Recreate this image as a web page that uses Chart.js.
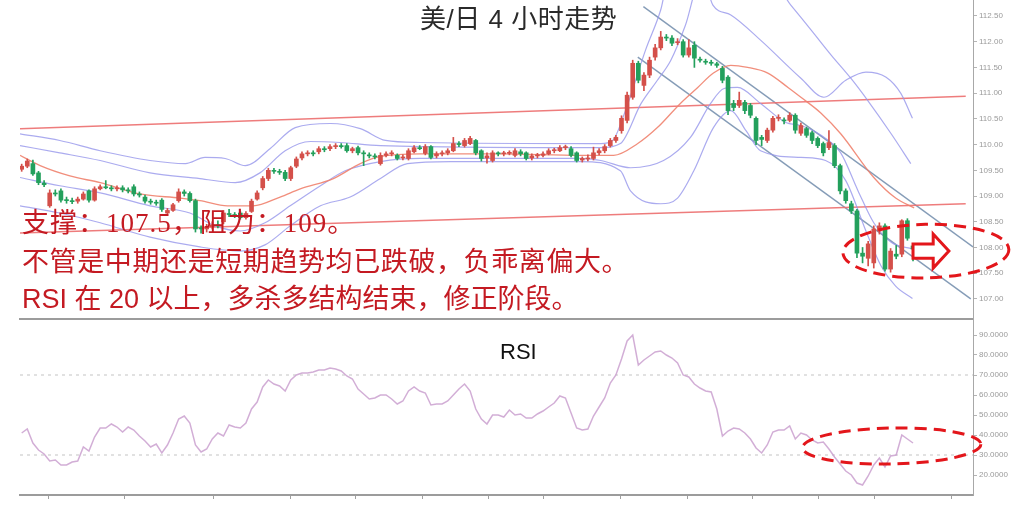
<!DOCTYPE html>
<html>
<head>
<meta charset="utf-8">
<title>美/日 4 小时走势</title>
<script src="https://cdn.jsdelivr.net/npm/chart.js@4"></script>
<style>
    body { margin: 0; background: #fff; overflow: hidden; }
    #wrap { position: relative; width: 1024px; height: 507px; background: #fff; }
    #mainBox { position: absolute; left: 0; top: 0; }
    #rsiBox { position: absolute; left: 0; top: 320px; }
    .txt { position: absolute; white-space: nowrap; }
    #title { left: 420px; top: 3px; font: 26px/32px "Liberation Sans", "Noto Sans CJK SC", sans-serif; color: #2a2a2a; letter-spacing: 0.5px; }
    .note { left: 22px; font-size: 27px; line-height: 30px; color: #c41a22; font-family: "Liberation Sans", "Noto Sans CJK SC", sans-serif; }
    #note1 { top: 208px; font-family: "Liberation Serif", "Noto Sans CJK SC", serif; letter-spacing: 1px; }
    #note2 { top: 247px; letter-spacing: 0.6px; }
    #note3 { top: 284px; }
    #rsiLabel { left: 500px; top: 338px; font: 22px/28px "Liberation Sans", sans-serif; color: #111; }
</style>
</head>
<body>
<div id="wrap">
    <div id="mainBox"><canvas id="mainChart" width="1024" height="320"></canvas></div>
    <div id="rsiBox"><canvas id="rsiChart" width="1024" height="187"></canvas></div>
    <div class="txt" id="title">美/日 4 小时走势</div>
    <div class="txt note" id="note1">支撑：107.5，阻力：109。</div>
    <div class="txt note" id="note2">不管是中期还是短期趋势均已跌破，负乖离偏大。</div>
    <div class="txt note" id="note3">RSI 在 20 以上，多杀多结构结束，修正阶段。</div>
    <div class="txt" id="rsiLabel">RSI</div>
</div>
<script>
// candles, one per 4h bar (index = bar number)
const opens = [109.52,109.58,109.63,109.45,109.25,108.81,109.06,109.10,108.93,108.91,108.90,108.94,109.10,108.92,109.14,109.18,109.16,109.14,109.16,109.12,
    109.18,109.04,108.98,108.90,108.88,108.92,108.67,108.72,108.91,109.08,109.05,108.91,108.38,108.36,108.40,108.44,108.50,108.66,108.64,108.67,
    108.58,108.70,108.94,109.16,109.34,109.50,109.48,109.46,109.34,109.58,109.74,109.82,109.84,109.86,109.92,109.92,109.96,109.98,109.98,109.88,
    109.94,109.84,109.80,109.78,109.63,109.79,109.82,109.79,109.74,109.73,109.86,109.94,109.83,109.96,109.78,109.82,109.84,109.88,110.02,109.98,
    110.02,110.08,109.88,109.74,109.69,109.84,109.82,109.83,109.79,109.86,109.84,109.74,109.78,109.79,109.82,109.88,109.88,109.94,109.92,109.84,
    109.70,109.72,109.73,109.84,109.88,109.98,110.08,110.27,110.47,110.92,111.58,111.15,111.35,111.70,111.88,112.09,112.07,111.98,112.00,111.74,
    111.93,111.66,111.62,111.60,111.57,111.48,111.31,110.80,110.76,110.82,110.76,110.51,110.14,110.08,110.28,110.51,110.48,110.47,110.57,110.22,
    110.31,110.23,110.12,110.02,109.94,109.98,109.59,109.10,108.85,108.71,107.89,107.79,107.70,108.32,108.42,107.58,107.87,107.87,108.52,108.03];
const highs = [109.62,109.72,109.70,109.48,109.30,109.12,109.12,109.14,108.98,108.96,108.98,109.08,109.12,109.18,109.22,109.30,109.20,109.20,109.20,109.16,
    109.22,109.08,109.02,108.94,108.92,108.95,108.76,108.86,109.14,109.12,109.08,108.94,108.42,108.45,108.50,108.52,108.72,108.74,108.68,108.70,
    108.70,108.94,109.10,109.38,109.54,109.54,109.52,109.50,109.58,109.76,109.86,109.88,109.88,109.96,109.96,110.00,110.02,110.02,110.02,109.95,
    109.97,109.88,109.84,109.82,109.84,109.86,109.88,109.82,109.80,109.92,109.98,109.98,110.00,109.98,109.86,109.88,109.92,110.14,110.06,110.12,
    110.16,110.10,109.90,109.84,109.88,109.86,109.87,109.88,109.92,109.90,109.86,109.82,109.83,109.86,109.92,109.93,109.98,109.99,109.96,109.86,
    109.76,109.80,109.95,109.92,110.00,110.12,110.18,110.56,111.02,111.64,111.62,111.40,111.70,111.95,112.20,112.14,112.12,112.06,112.04,112.04,
    112.00,111.70,111.66,111.64,111.60,111.52,111.34,110.86,111.02,110.86,110.80,110.54,110.18,110.32,110.55,110.58,110.52,110.62,110.60,110.42,
    110.34,110.26,110.15,110.05,110.27,110.02,109.62,109.14,108.90,108.74,108.00,108.12,108.42,108.48,108.46,107.98,108.04,108.54,108.56,108.08];
const lows = [109.48,109.55,109.40,109.22,109.18,108.78,109.00,108.88,108.86,108.85,108.86,108.92,108.88,108.90,109.12,109.14,109.10,109.10,109.08,109.06,
    109.00,108.98,108.86,108.84,108.82,108.70,108.62,108.70,108.88,109.00,108.88,108.30,108.28,108.30,108.36,108.38,108.46,108.60,108.58,108.55,
    108.55,108.68,108.92,109.12,109.30,109.44,109.42,109.30,109.30,109.55,109.70,109.78,109.78,109.82,109.86,109.88,109.92,109.93,109.85,109.84,
    109.80,109.59,109.74,109.72,109.60,109.76,109.78,109.70,109.70,109.70,109.84,109.90,109.80,109.72,109.74,109.78,109.80,109.86,109.96,109.95,
    110.00,109.80,109.68,109.64,109.66,109.78,109.78,109.80,109.76,109.78,109.70,109.70,109.74,109.76,109.80,109.84,109.86,109.90,109.76,109.66,
    109.66,109.68,109.70,109.80,109.84,109.95,110.04,110.22,110.42,110.88,111.20,111.05,111.30,111.64,111.84,112.02,111.92,111.94,111.70,111.70,
    111.50,111.60,111.56,111.54,111.50,111.20,110.58,110.66,110.72,110.60,110.52,110.00,109.98,110.04,110.24,110.46,110.40,110.44,110.22,110.18,
    110.14,110.02,109.94,109.78,109.90,109.55,109.04,108.86,108.66,107.80,107.70,107.64,107.60,108.26,107.54,107.52,107.78,107.82,108.14,107.74];
const closes = [109.58,109.68,109.43,109.26,109.22,109.06,109.04,108.92,108.91,108.89,108.94,109.04,108.92,109.14,109.18,109.16,109.14,109.16,109.12,109.10,
    109.04,109.02,108.90,108.88,108.86,108.74,108.72,108.83,109.08,109.05,108.91,108.36,108.36,108.40,108.44,108.42,108.67,108.64,108.62,108.58,
    108.66,108.90,109.06,109.34,109.50,109.48,109.46,109.34,109.55,109.72,109.82,109.84,109.82,109.92,109.90,109.96,109.98,109.96,109.88,109.92,
    109.84,109.82,109.78,109.76,109.79,109.82,109.84,109.73,109.76,109.88,109.94,109.92,109.96,109.75,109.82,109.84,109.88,110.02,110.00,110.08,
    110.12,109.84,109.73,109.78,109.84,109.82,109.84,109.85,109.88,109.82,109.73,109.78,109.80,109.82,109.88,109.90,109.94,109.96,109.79,109.69,
    109.73,109.74,109.84,109.88,109.96,110.08,110.14,110.51,110.96,111.58,111.25,111.35,111.64,111.88,112.09,112.07,111.97,112.00,111.74,111.88,
    111.68,111.64,111.60,111.58,111.54,111.25,110.66,110.72,110.86,110.66,110.57,110.08,110.10,110.28,110.51,110.53,110.46,110.57,110.28,110.37,
    110.18,110.08,109.98,109.84,110.04,109.59,109.10,108.91,108.71,107.89,107.83,108.07,108.36,108.42,107.58,107.93,107.83,108.52,108.18,107.97];

// RSI per bar
const rsi = [41,43,36,32.5,30.5,27,27.5,25,25,26.5,27,34,32,39,43.5,43.5,45.5,44,41.5,44,
    42.5,39.5,37,34,35.5,31,35,41,48,49.5,46,35,31.5,33,38,41,39.5,45,44,43.5,
    46,53,56.5,64,67.5,65.5,64.5,62,67.5,70,71,71,71.5,72.5,72.5,73.5,73,72,69.5,68,
    63,60.5,58,58.5,60,60,58,55.5,57,62,64,62,61,55,55.5,55.5,57,60,63,65.5,
    62,53,48,45.5,50,50,49,52.5,50,50.5,48.5,48.5,50.5,52,54,56,59.5,58.5,51,43.5,
    42.5,43,49.5,54,58.5,66,70,78,87,90,75,77.5,79.5,81.5,82,80,78.5,76,70,69,
    65.5,63.5,62,61.5,53,39.5,42,43.5,43,41,38,33.5,31,35,41.5,42.5,42.5,44.5,38,41,
    40,37.5,36,36.5,33,29,25.5,22,20,16,15,19.5,25,28.5,24,29.5,30,40,38,36];

// Bollinger-style bands and MA, [bar, price]
const maMid = [[-0.3,109.79],[3.3,109.59],[8.6,109.39],[14.0,109.26],[21.1,109.04],[28.3,108.96],[31.8,108.91],[36.7,108.81],[41.3,108.81],
    [46.1,108.98],[49.7,109.14],[55.6,109.34],[60.4,109.63],[64.0,109.77],[71.1,109.82],[85.4,109.82],[99.7,109.79],[105.6,109.79],
    [109.9,110.02],[113.4,110.33],[117.5,110.80],[120.6,111.11],[123.4,111.39],[126.5,111.54],[129.5,111.50],[133.1,111.39],
    [136.7,111.11],[139.0,110.92],[142.6,110.61],[146.1,110.21],[152.0,109.36],[155.9,108.96],[159.2,108.77]];
const upperOuter = [[-0.3,110.21],[6.8,110.08],[14.0,109.88],[22.9,109.69],[29.2,109.63],[32.7,109.75],[36.3,109.73],[39.9,109.59],
    [44.3,109.92],[48.8,110.33],[55.1,110.41],[60.4,110.31],[64.9,110.08],[71.1,110.04],[103.3,110.02],[105.4,110.08],[107.7,110.66],
    [111.3,111.84],[114.0,112.62],[115.8,113.40],[121.1,113.40],[123.3,112.71],[126.5,112.52],[131.8,112.03],[139.0,111.29],
    [143.1,110.92],[147.0,111.25],[150.6,111.41],[154.2,111.31],[156.8,111.00],[158.9,110.51]];
const upperInner = [[-0.3,109.98],[6.8,109.84],[14.0,109.69],[22.9,109.45],[31.8,109.34],[38.1,109.26],[42.5,109.45],[47.0,109.88],
    [51.5,110.06],[56.8,110.04],[64.0,109.98],[103.3,109.94],[106.8,110.02],[110.5,110.80],[113.4,111.25],[115.8,111.64],[118.4,112.32],
    [121.1,113.20],[133.6,113.20],[137.2,112.71],[140.8,112.23],[144.4,111.74],[147.9,111.29],[150.9,110.86],[155.1,110.21],[158.6,109.63]];
const lowerInner = [[-0.3,109.36],[6.8,109.20],[14.0,109.06],[22.9,108.81],[30.0,108.67],[34.5,108.42],[39.0,108.32],[43.4,108.48],
    [47.9,108.81],[53.3,109.20],[57.7,109.49],[64.0,109.67],[71.1,109.73],[99.7,109.73],[103.3,109.69],[108.6,109.55],[114.5,109.69],
    [119.3,110.14],[122.9,110.80],[125.3,111.09],[127.7,111.11],[131.8,110.80],[136.3,110.43],[139.0,110.37],[142.6,110.18],
    [146.1,109.84],[149.2,109.10],[152.0,108.48],[155.1,108.10],[158.9,107.97]];
const lowerOuter = [[-0.3,108.81],[6.8,108.67],[14.0,108.48],[22.9,108.20],[31.8,108.01],[39.0,107.93],[43.4,108.05],[47.9,108.42],
    [53.3,108.81],[58.6,108.98],[64.0,109.34],[68.8,109.63],[76.5,109.67],[99.7,109.67],[106.8,109.49],[108.6,109.10],[114.0,108.85],
    [117.0,108.96],[119.9,109.49],[123.4,110.33],[126.5,110.66],[129.2,110.27],[131.8,109.88],[139.0,109.75],[143.4,109.69],
    [147.0,109.30],[150.6,108.32],[153.3,107.64],[155.9,107.25],[158.9,107.01]];

// hand-drawn trend lines, [bar, price]
const resistTop = [[-0.3,110.31],[168.4,110.94]];
const resistLow = [[-0.3,108.28],[168.4,108.85]];
const channelTop = [[110.9,112.68],[169.7,108.01]];
const channelLow = [[109.9,111.70],[169.3,107.00]];

const priceTicks = [107,107.5,108,108.5,109,109.5,110,110.5,111,111.5,112,112.5];
const rsiTicks = [20,30,40,50,60,70,80,90];
const rsiLevels = [70,30];
const dayMarks = [4.7,18.4,34.2,47.9,59.5,71.5,83.3,93.1,106.8,118.8,130.4,142.2,152.1,165.8];

const RED = '#d4504a';
const GREEN = '#23a05c';
const BAND = 'rgba(150,150,235,0.8)';
const MARK = '#e3161b';

const bars = opens.map((o, i) => i);
const candleColors = bars.map(i => closes[i] >= opens[i] ? RED : GREEN);

function lineSet(pts, color, width, order) {
    return {
        type: 'line',
        data: pts.map(p => ({x: p[0], y: p[1]})),
        borderColor: color,
        borderWidth: width,
        pointRadius: 0,
        cubicInterpolationMode: 'monotone',
        order: order
    };
}

function straight(pts, color, width) {
    let d = lineSet(pts, color, width, 3);
    d.cubicInterpolationMode = 'default';
    d.tension = 0;
    return d;
}

const xScale = {
    type: 'linear', min: -0.3, max: 169.7, offset: false,
    ticks: {display: false},
    grid: {display: true, drawOnChartArea: false, drawTicks: false, offset: false},
    border: {display: true, color: '#9c9c9c', width: 2}
};

function rightAxis(min, max, tickList, digits) {
    return {
        position: 'right', min: min, max: max,
        afterBuildTicks: s => { s.ticks = tickList.map(v => ({value: v})); },
        afterFit: s => { s.width = 51; s.paddingTop = 0; s.paddingBottom = 0; },
        ticks: {
            callback: v => Number(v).toFixed(digits),
            font: {family: 'Liberation Sans', size: 8},
            color: '#9a9a9a', padding: 2, autoSkip: false
        },
        grid: {drawOnChartArea: false, drawTicks: true, tickLength: 4, color: '#b5b5b5'},
        border: {display: true, color: '#a8a8a8', width: 1}
    };
}

// ellipse / arrow marks, in data units
const mainRing = {x: 161.3, y: 107.93, rx: 14.8, ry: 0.52};
const rsiRing = {x: 155.2, y: 34.5, rx: 15.9, ry: 9};
const arrowMark = {tail: 159.0, neck: 162.6, tip: 165.4, y: 107.93, shaft: 0.137, head: 0.33};

function drawRing(chart, r) {
    const {ctx, scales: {x, y}} = chart;
    const cx = x.getPixelForValue(r.x), cy = y.getPixelForValue(r.y);
    const rx = x.getPixelForValue(r.x + r.rx) - cx;
    const ry = cy - y.getPixelForValue(r.y + r.ry);
    ctx.save();
    ctx.strokeStyle = MARK;
    ctx.lineWidth = 3;
    ctx.setLineDash([12, 7]);
    ctx.beginPath();
    ctx.ellipse(cx, cy, rx, ry, -0.02, 0, Math.PI * 2);
    ctx.stroke();
    ctx.restore();
}

const mainMarks = {
    id: 'mainMarks',
    afterDraw(chart) {
        drawRing(chart, mainRing);
        const {ctx, scales: {x, y}} = chart;
        const a = arrowMark;
        const x0 = x.getPixelForValue(a.tail), x1 = x.getPixelForValue(a.neck), x2 = x.getPixelForValue(a.tip);
        const yc = y.getPixelForValue(a.y);
        const sh = yc - y.getPixelForValue(a.y + a.shaft), hh = yc - y.getPixelForValue(a.y + a.head);
        ctx.save();
        ctx.beginPath();
        ctx.moveTo(x0, yc - sh);
        ctx.lineTo(x1, yc - sh);
        ctx.lineTo(x1, yc - hh);
        ctx.lineTo(x2, yc);
        ctx.lineTo(x1, yc + hh);
        ctx.lineTo(x1, yc + sh);
        ctx.lineTo(x0, yc + sh);
        ctx.closePath();
        ctx.fillStyle = '#fff';
        ctx.fill();
        ctx.strokeStyle = MARK;
        ctx.lineWidth = 3;
        ctx.lineJoin = 'miter';
        ctx.stroke();
        ctx.restore();
    }
};

const rsiMarks = {
    id: 'rsiMarks',
    afterDraw(chart) { drawRing(chart, rsiRing); }
};

new Chart(document.getElementById('mainChart'), {
    data: {
        datasets: [
            {
                type: 'bar',
                data: bars.map(i => ({x: i, y: [opens[i], closes[i]]})),
                backgroundColor: candleColors,
                barThickness: 4, grouped: false, minBarLength: 1, order: 0
            },
            {
                type: 'bar',
                data: bars.map(i => ({x: i, y: [lows[i], highs[i]]})),
                backgroundColor: candleColors,
                barThickness: 1, grouped: false, order: 1
            },
            lineSet(maMid, 'rgba(240,130,110,0.9)', 1.3, 2),
            lineSet(upperOuter, BAND, 1.2, 2),
            lineSet(upperInner, BAND, 1.2, 2),
            lineSet(lowerInner, BAND, 1.2, 2),
            lineSet(lowerOuter, BAND, 1.2, 2),
            straight(resistTop, 'rgba(236,110,110,0.9)', 1.5),
            straight(resistLow, 'rgba(236,110,110,0.9)', 1.5),
            straight(channelTop, 'rgba(120,145,175,0.9)', 1.4),
            straight(channelLow, 'rgba(120,145,175,0.9)', 1.4)
        ]
    },
    options: {
        responsive: false,
        animation: false,
        layout: {padding: {left: 20, right: 0, top: 0, bottom: 1}},
        plugins: {legend: {display: false}, tooltip: {enabled: false}},
        scales: {
            x: xScale,
            y: rightAxis(106.61, 112.81, priceTicks, 2)
        }
    },
    plugins: [mainMarks]
});

new Chart(document.getElementById('rsiChart'), {
    data: {
        datasets: [
            {
                type: 'line',
                data: bars.map(i => ({x: i, y: rsi[i]})),
                borderColor: 'rgba(205,165,210,0.9)',
                borderWidth: 1.5, pointRadius: 0, tension: 0, order: 0
            },
            ...rsiLevels.map(v => ({
                type: 'line',
                data: [{x: -0.3, y: v}, {x: 169.7, y: v}],
                borderColor: '#c4c4c4', borderWidth: 1.2, borderDash: [3, 4],
                pointRadius: 0, order: 1
            }))
        ]
    },
    options: {
        responsive: false,
        animation: false,
        layout: {padding: {left: 20, right: 0, top: 0, bottom: 8}},
        plugins: {legend: {display: false}, tooltip: {enabled: false}},
        scales: {
            x: Object.assign({}, xScale, {
                afterBuildTicks: s => { s.ticks = dayMarks.map(v => ({value: v})); },
                grid: {display: true, drawOnChartArea: false, drawTicks: true, tickLength: 4, color: '#a0a0a0'}
            }),
            y: rightAxis(10, 97.5, rsiTicks, 4)
        }
    },
    plugins: [rsiMarks]
});
</script>
</body>
</html>
